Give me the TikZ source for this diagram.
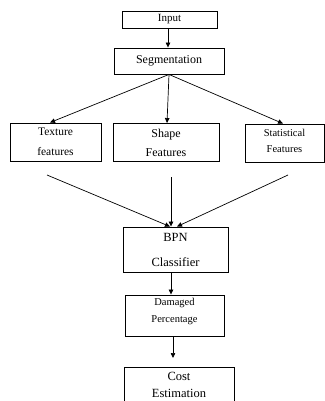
\documentclass[tikz,border=0pt]{standalone}
\usepackage{fontspec}
\setmainfont{Liberation Serif}
\usetikzlibrary{arrows.meta}
\begin{document}
\begin{tikzpicture}[x=1pt,y=-1pt,
  box/.style={draw,line width=0.9pt,inner sep=0pt,align=center,rectangle},
  conn/.style={line width=0.7pt},
  arr/.style={conn,-{Triangle[length=5pt,width=4.5pt]}}]
\useasboundingbox (0,0) rectangle (324,401);
\node[box,minimum width=95pt,minimum height=17pt,font=\fontsize{11}{12}\selectfont] (in) at (169.5,19.5) {Input};
\node[box,minimum width=110pt,minimum height=26pt,font=\fontsize{12}{13}\selectfont] (seg) at (169,61) {Segmentation};
\node[box,minimum width=91pt,minimum height=38pt,font=\fontsize{11.5}{20}\selectfont] (tex) at (55.5,142) {Texture\\features};
\node[box,minimum width=106pt,minimum height=38pt,font=\fontsize{12}{19}\selectfont] (shp) at (166,142.5) {Shape\\Features};
\node[box,minimum width=79pt,minimum height=38pt,font=\fontsize{10.5}{16}\selectfont,text depth=4pt] (sta) at (284.5,143) {Statistical\\Features};
\node[box,minimum width=105pt,minimum height=45pt,font=\fontsize{12.5}{25}\selectfont] (bpn) at (175.5,249.5) {BPN\\Classifier};
\node[box,minimum width=99pt,minimum height=41pt,font=\fontsize{10.5}{17}\selectfont,text depth=10pt] (dam) at (174.5,315.5) {Damaged\\Percentage};
\node[box,minimum width=110pt,minimum height=45pt,font=\fontsize{12.5}{17}\selectfont,text depth=10pt] (cost) at (179,389.5) {Cost\\Estimation};
\draw[arr] ([xshift=-1.5pt]in.south) -- ([xshift=-1pt]seg.north);
\draw[arr] (seg.south) -- ([xshift=-5.5pt]tex.north);
\draw[arr] (seg.south) -- ([xshift=1pt]shp.north);
\draw[arr] (seg.south) -- ([xshift=-1.5pt]sta.north);
\coordinate (t1) at (47,175);
\coordinate (t2) at (171,177);
\coordinate (t3) at (288,175);
\draw[arr] (t1) -- ([xshift=-5.5pt]bpn.north);
\draw[arr] (t2) -- ([xshift=-4.5pt]bpn.north);
\draw[arr] (t3) -- ([xshift=1.5pt]bpn.north);
\draw[arr] ([xshift=-4.5pt]bpn.south) -- ([xshift=-3.5pt]dam.north);
\coordinate (c1) at (173,358);
\draw[arr] ([xshift=-1.5pt]dam.south) -- (c1);
\end{tikzpicture}
\end{document}
